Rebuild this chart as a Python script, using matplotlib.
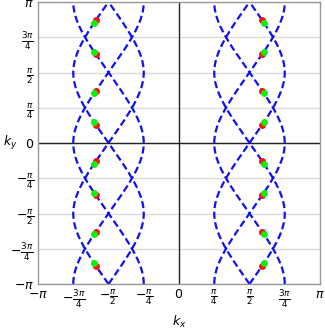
import matplotlib
matplotlib.use("Agg")
import matplotlib.pyplot as plt
import numpy as np

plt.rcParams['mathtext.fontset'] = 'dejavusans'

# band-touching curves: cos(kx) = +-sin(ky)/sqrt2 and +-cos(ky)/sqrt2
centers = [-np.pi / 2, np.pi / 2]

# dot positions (left group; right group mirrored)
red_ky = [2.73, 1.98, 1.16, 0.41, -0.41, -1.16, -1.98, -2.73]
red_kx = [-1.857] * 8
green_ky = [2.68, 2.03, 1.11, 0.46, -0.46, -1.11, -2.03, -2.68]
green_kx = [-1.887] * 8

tick_vals = [-np.pi, -3 * np.pi / 4, -np.pi / 2, -np.pi / 4, 0,
             np.pi / 4, np.pi / 2, 3 * np.pi / 4, np.pi]
tick_labels = [r'$-\pi$', r'$-\frac{3\pi}{4}$', r'$-\frac{\pi}{2}$', r'$-\frac{\pi}{4}$', r'$0$',
               r'$\frac{\pi}{4}$', r'$\frac{\pi}{2}$', r'$\frac{3\pi}{4}$', r'$\pi$']

fig = plt.figure(figsize=(3.25, 3.28), dpi=100)
ax = fig.add_axes([38 / 325, 44 / 328, 282 / 325, 282 / 328])

# grid lines at multiples of pi/4
for y in tick_vals:
    ax.axhline(y, color='#dcdcdc', lw=1.0, zorder=0)
ax.axhline(0, color='#222222', lw=1.0, zorder=1)
ax.axvline(0, color='#222222', lw=1.0, zorder=1)

ky = np.linspace(-np.pi, np.pi, 1200)
for c in centers:
    for f in (np.sin, np.cos):
        for s in (1, -1):
            kx = c + s * np.arcsin(f(ky) / np.sqrt(2))
            ax.plot(kx, ky, color='#1010f0', lw=1.6, dashes=(3.2, 1.6), zorder=2)

for sgn in (1, -1):
    ax.plot(np.array(red_kx) * sgn, red_ky, 'o', color='#ff1010', ms=5, mec='none', zorder=3)
    ax.plot(np.array(green_kx) * sgn, green_ky, 'o', color='#10ee10', ms=5, mec='none', zorder=4)

ax.set_xlim(-np.pi, np.pi)
ax.set_ylim(-np.pi, np.pi)
ax.set_xticks(tick_vals)
ax.set_xticklabels(tick_labels, fontsize=9)
ax.set_yticks(tick_vals)
ax.set_yticklabels(tick_labels, fontsize=9)
ax.tick_params(length=0, pad=3)

for sp in ax.spines.values():
    sp.set_color('#999999')
    sp.set_linewidth(1.0)

ax.set_xlabel(r'$k_x$', fontsize=9, va='center')
ax.xaxis.set_label_coords(0.5, -0.135)
ax.set_ylabel(r'$k_y$', fontsize=9, rotation=0, va='center', ha='center')
ax.yaxis.set_label_coords(-0.1, 0.5)

fig.savefig('out.png', dpi=100)
